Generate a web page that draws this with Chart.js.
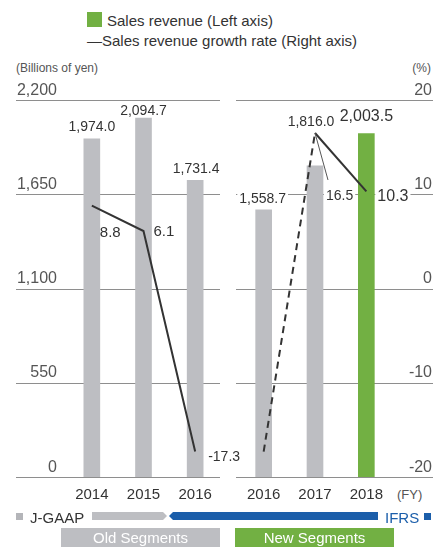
<!DOCTYPE html>
<html>
<head>
<meta charset="utf-8">
<script src="https://cdn.jsdelivr.net/npm/chart.js@4/dist/chart.umd.min.js"></script>
<style>
  html, body { margin: 0; padding: 0; background: #fff; }
  body { width: 433px; height: 550px; position: relative; overflow: hidden;
         font-family: "Liberation Sans", Arial, sans-serif; color: #333; }
  canvas { position: absolute; left: 0; top: 0; }
  .t { position: absolute; white-space: nowrap; line-height: 1; }
  .box { position: absolute; }
  .seg { position: absolute; top: 528px; height: 19px; width: 159px; color: #fff;
         font-size: 15px; line-height: 19px; text-align: center; }
</style>
</head>
<body>
  <!-- legend -->
  <div class="box" style="left:87px;top:12px;width:15px;height:15px;background:#72b043"></div>
  <div class="t" style="left:107px;top:13px;font-size:15px">Sales revenue (Left axis)</div>
  <div class="t" style="left:87px;top:33px;font-size:15px">—Sales revenue growth rate (Right axis)</div>

  <!-- axis units -->
  <div class="t" style="left:16px;top:62px;font-size:12px;color:#555">(Billions of yen)</div>
  <div class="t" style="right:2px;top:62px;font-size:12px;color:#555">(%)</div>
  <div class="t" style="left:397px;top:488px;font-size:13px;color:#555">(FY)</div>

  <canvas id="leftPanel" width="433" height="550"></canvas>
  <canvas id="rightPanel" width="433" height="550"></canvas>

  <!-- accounting standard strip -->
  <div class="box" style="left:16px;top:513px;width:7px;height:7px;background:#b4b5b9"></div>
  <div class="t" style="left:30px;top:510px;font-size:15px;color:#333">J-GAAP</div>
  <div class="box" style="left:92px;top:512px;width:75px;height:8px;background:#bdbec2;
       clip-path:polygon(0 0, calc(100% - 4px) 0, 100% 50%, calc(100% - 4px) 100%, 0 100%)"></div>
  <div class="box" style="left:169px;top:512px;width:209px;height:8px;background:#1b5eaa;
       clip-path:polygon(4px 0, 100% 0, 100% 100%, 4px 100%, 0 50%)"></div>
  <div class="t" style="left:385px;top:510px;font-size:15px;color:#1b5eaa">IFRS</div>
  <div class="box" style="left:424px;top:513px;width:7px;height:7px;background:#1b5eaa"></div>

  <!-- segment bands -->
  <div class="seg" style="left:61px;background:#bdbec2">Old Segments</div>
  <div class="seg" style="left:235px;background:#72b043">New Segments</div>

<script>
// ---- data ----
const fyOld = ['2014', '2015', '2016'];          // J-GAAP years
const fyNew = ['2016', '2017', '2018'];          // IFRS years
const revenueOld = [1974.0, 2094.7, 1731.4];     // billions of yen
const revenueNew = [1558.7, 1816.0, 2003.5];
const growthOld = [8.8, 6.1, -17.3];             // %
const growthNew = [-17.3, 16.5, 10.3];
const revenueTicks = [0, 550, 1100, 1650, 2200];
const growthTicks = [-20, -10, 0, 10, 20];

// ---- styling ----
const GRAY = '#bdbec2';
const GREEN = '#72b043';
const FONT = '"Liberation Sans", Arial, sans-serif';
const CH_TOP = 100, CH_BOTTOM = 477;

const fmtRev = v => v.toLocaleString('en-US', { minimumFractionDigits: 1, maximumFractionDigits: 1 });
const fmtPct = v => v.toFixed(1);

function drawText(ctx, txt, x, cy, size, align, color, bg) {
  ctx.save();
  ctx.font = size + 'px ' + FONT;
  ctx.textAlign = align;
  ctx.textBaseline = 'alphabetic';
  const base = cy + 0.358 * size;
  if (bg) {
    const w = ctx.measureText(txt).width;
    const left = align === 'center' ? x - w / 2 : align === 'right' ? x - w : x;
    ctx.fillStyle = '#fff';
    ctx.fillRect(left - 2, cy - size * 0.5, w + 4, size);
  }
  ctx.fillStyle = color;
  ctx.fillText(txt, x, base);
  ctx.restore();
}

// gridlines, tick texts, category texts and value labels for one panel
function panelDecor(opt) {
  return {
    id: 'panelDecor',
    beforeDatasetsDraw(chart) {
      const ctx = chart.ctx;
      const y = chart.scales.y;
      ctx.save();
      ctx.strokeStyle = '#8e8e8e';
      ctx.lineWidth = 1;
      revenueTicks.forEach(v => {
        const py = Math.round(y.getPixelForValue(v)) + 0.5;
        ctx.beginPath();
        ctx.moveTo(opt.gridFrom, py);
        ctx.lineTo(opt.gridTo, py);
        ctx.stroke();
      });
      ctx.restore();
      // tick texts
      const sc = chart.scales[opt.tickScale];
      opt.ticks.forEach(v => {
        const py = sc.getPixelForValue(v);
        const txt = opt.tickScale === 'y' ? v.toLocaleString('en-US') : String(v);
        drawText(ctx, txt, opt.tickX, py - 11, 16, 'right', '#555');
      });
      // category texts
      const x = chart.scales.x;
      chart.data.labels.forEach((l, i) => {
        drawText(ctx, l, x.getPixelForValue(i), 494, 15, 'center', '#333');
      });
    },
    afterDatasetsDraw(chart) {
      const ctx = chart.ctx;
      const bars = chart.getDatasetMeta(0).data;
      const pts = chart.getDatasetMeta(1).data;
      const barVals = chart.data.datasets[0].data;
      const lineVals = chart.data.datasets[1].data;
      opt.barLabels.forEach((l, i) => {
        if (!l) return;
        const b = bars[i];
        drawText(ctx, fmtRev(barVals[i]), b.x + l.dx, b.y + l.dy, l.size, 'center', '#333', l.bg);
      });
      opt.lineLabels.forEach((l, i) => {
        if (!l) return;
        const p = pts[i];
        if (l.leader) {
          ctx.save();
          ctx.strokeStyle = '#555';
          ctx.lineWidth = 1;
          ctx.beginPath();
          ctx.moveTo(p.x, p.y);
          ctx.lineTo(p.x + l.leader[0], p.y + l.leader[1]);
          ctx.stroke();
          ctx.restore();
        }
        drawText(ctx, fmtPct(lineVals[i]), p.x + l.dx, p.y + l.dy, l.size, 'left', '#333', l.bg);
      });
    }
  };
}

function makePanel(canvasId, labels, revenue, growth, barColors, pad, decor, dashedFirst) {
  return new Chart(document.getElementById(canvasId), {
    data: {
      labels: labels,
      datasets: [
        {
          type: 'bar',
          data: revenue,
          yAxisID: 'y',
          backgroundColor: barColors,
          barThickness: 16,
          order: 2
        },
        {
          type: 'line',
          data: growth,
          yAxisID: 'y1',
          borderColor: '#333',
          borderWidth: 2,
          pointRadius: 0,
          tension: 0,
          fill: false,
          order: 1,
          segment: {
            borderDash: c => (dashedFirst && c.p0DataIndex === 0) ? [7, 5] : undefined
          }
        }
      ]
    },
    options: {
      responsive: false,
      devicePixelRatio: 1,
      animation: false,
      events: [],
      layout: { padding: pad },
      plugins: { legend: { display: false }, tooltip: { enabled: false } },
      scales: {
        x: { type: 'category', offset: true, display: false },
        y: { min: 0, max: 2200, display: false },
        y1: { min: -20, max: 20, display: false }
      }
    },
    plugins: [panelDecor(decor)]
  });
}

makePanel('leftPanel', fyOld, revenueOld, growthOld, [GRAY, GRAY, GRAY],
  { left: 66, right: 212, top: CH_TOP, bottom: 550 - CH_BOTTOM },
  {
    gridFrom: 16, gridTo: 220, tickScale: 'y', ticks: revenueTicks, tickX: 57,
    barLabels: [
      { dx: 0, dy: -13, size: 14 },
      { dx: 0, dy: -8, size: 14 },
      { dx: 1, dy: -12.5, size: 14 }
    ],
    lineLabels: [
      { dx: 8, dy: 26, size: 15 },
      { dx: 10, dy: 0, size: 15 },
      { dx: 13, dy: 4, size: 14 }
    ]
  }, false);

makePanel('rightPanel', fyNew, revenueNew, growthNew, [GRAY, GRAY, GREEN],
  { left: 238, right: 41, top: CH_TOP, bottom: 550 - CH_BOTTOM },
  {
    gridFrom: 236, gridTo: 433, tickScale: 'y1', ticks: growthTicks, tickX: 432,
    barLabels: [
      { dx: -1, dy: -12, size: 14, bg: true },
      { dx: -4, dy: -45, size: 14 },
      { dx: 0, dy: -18, size: 16 }
    ],
    lineLabels: [
      null,
      { dx: 11, dy: 62, size: 14, bg: true, leader: [13, 47] },
      { dx: 11, dy: 4, size: 16, bg: true }
    ]
  }, true);
</script>
</body>
</html>
